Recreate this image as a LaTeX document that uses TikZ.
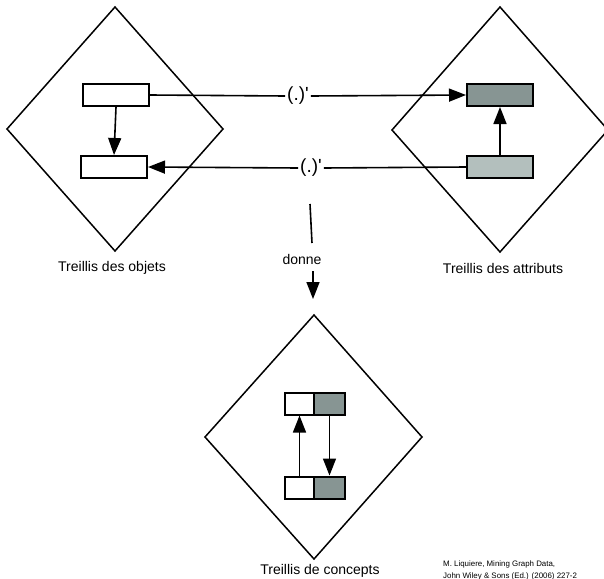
\documentclass[tikz,border=0pt]{standalone}
\usepackage{fontspec}
\setmainfont{Liberation Sans}
\usetikzlibrary{arrows.meta}
\definecolor{darkg}{HTML}{879593}
\definecolor{lightg}{HTML}{B3BFBD}
\begin{document}
\begin{tikzpicture}[x=1pt,y=-1pt,
  diam/.style={draw,line width=1.5pt,line join=miter},
  cbox/.style={draw,line width=2pt,minimum width=#1,minimum height=22pt,inner sep=0pt,anchor=center},
  cbox/.default=66pt,
  arr/.style={line width=1.6pt,-{Triangle[length=17pt,width=13pt]}},
  plain/.style={line width=1.6pt},
  lab/.style={font=\fontsize{14}{16}\selectfont,inner sep=0pt},
  prime/.style={font=\fontsize{19}{21}\selectfont,fill=white,inner sep=2pt}]
\useasboundingbox (0,0) rectangle (604,578);
% diamonds
\draw[diam] (115,7) -- (223,129) -- (115,251) -- (7,129) -- cycle;
\draw[diam] (500,7) -- (608,130) -- (500,252) -- (392,130) -- cycle;
\draw[diam] (314,315) -- (422,437) -- (314,559) -- (205,437) -- cycle;
% left boxes
\node[cbox=66pt,fill=white] (o1) at (116,95) {};
\node[cbox=66pt,fill=white] (o2) at (114,167) {};
% right boxes
\node[cbox=66pt,fill=darkg] (a1) at (500,95) {};
\node[cbox=66pt,fill=lightg] (a2) at (500,167) {};
% concept boxes
\node[cbox=29pt,fill=white] (c1l) at (299.5,403.5) {};
\node[cbox=31pt,fill=darkg] (c1r) at (329.5,403.5) {};
\node[cbox=29pt,fill=white] (c2l) at (299.5,487.5) {};
\node[cbox=31pt,fill=darkg] (c2r) at (329.5,487.5) {};
% internal arrows
\draw[arr] (o1.south) -- (o2.north);
\draw[arr] (a2.north) -- (a1.south);
\draw[arr] (c2l.north) -- (c1l.south);
\draw[arr] (c1r.south) -- (c2r.north);
% (.)' arrows
\node[prime] (p1) at (298,96) {(.)\textquotesingle};
\node[prime] (p2) at (311,168) {(.)\textquotesingle};
\draw[plain] (o1.east) -- (p1.west);
\draw[arr] (p1.east) -- (a1.west);
\draw[plain] (a2.west) -- (p2.east);
\draw[arr] (p2.west) -- (o2.east);
% donne
\coordinate (d0) at (310,204);
\coordinate (d1) at (312,243);
\node[lab] (dn) at (302,259) {donne};
\coordinate (d2) at (313,271);
\coordinate (d3) at (313,299);
\draw[plain] (d0) -- (d1);
\draw[arr] (d2) -- (d3);
% labels
\node[lab] (l1) at (112,268) {Treillis des objets};
\node[lab] (l2) at (503,268) {Treillis des attributs};
\node[lab] (l3) at (320,571) {Treillis de concepts};
\node[font=\fontsize{7.9}{12.5}\selectfont,inner sep=0pt,anchor=base west,align=left] (cit) at (443,578.5) {M. Liquiere, Mining Graph Data,\\John Wiley \& Sons (Ed.) (2006) 227-2};
\end{tikzpicture}
\end{document}
